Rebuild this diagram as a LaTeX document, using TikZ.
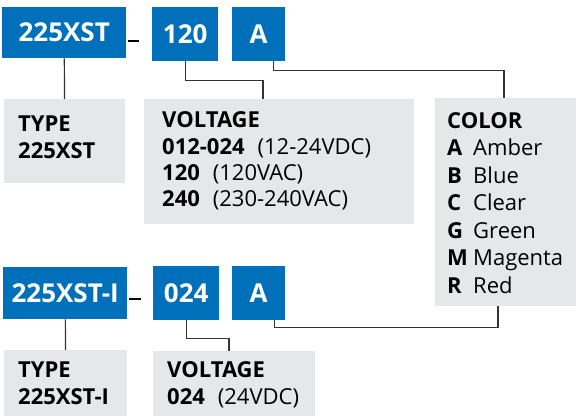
\documentclass[tikz,border=0pt]{standalone}
\usepackage{fontspec}
\setmainfont{Open Sans}
\definecolor{codeblue}{HTML}{0070BA}
\definecolor{infogray}{HTML}{E6E7E8}

\begin{document}
\begin{tikzpicture}[x=1pt, y=-1pt,
    code/.style={fill=codeblue, text=white, anchor=north west, inner sep=0pt, font=\fontsize{26}{26}\selectfont\bfseries},
    info/.style={fill=infogray, anchor=north west, inner sep=0pt},
    lbl/.style={anchor=base west, inner sep=0pt, font=\fontsize{22}{22}\selectfont},
    link/.style={draw=black!80, line width=1.2pt}]
    \useasboundingbox (0,0) rectangle (576,416);

    \node[code, minimum width=124, minimum height=51] (T1) at (2,7) {225XST};
    \node[code, minimum width=66, minimum height=54] (V1) at (152,7) {120};
    \node[code, minimum width=53, minimum height=54] (C1) at (232,7) {A};
    \fill (128,40) rectangle (139,42);

    \node[code, minimum width=124, minimum height=52] (T2) at (3,267) {225XST-I};
    \node[code, minimum width=66, minimum height=54] (V2) at (153,266) {024};
    \node[code, minimum width=53, minimum height=54] (C2) at (232,266) {A};
    \fill (129,298) rectangle (141,300);

    \node[info, minimum width=121, minimum height=84] (TY1) at (4,99) {};
    \node[info, minimum width=270, minimum height=125] (VO1) at (144,99) {};
    \node[info, minimum width=141, minimum height=208] (CO) at (435,98) {};
    \node[info, minimum width=123, minimum height=66] (TY2) at (4,350) {};
    \node[info, minimum width=162, minimum height=65] (VO2) at (153,351) {};

    \draw[link] (T1) -- (TY1);
    \draw[link] (V1.south) -- ++(0,19) -| ([xshift=119pt]VO1.north west);
    \draw[link] ([xshift=15pt]C1.south) -- ++(0,9) -| ([xshift=69pt]CO.north west);
    \draw[link] (T2) -- (TY2);
    \draw[link] (V2.south) -- ++(0,18) -| ([xshift=76pt]VO2.north west);
    \draw[link] ([xshift=16pt]C2.south) -- ++(0,7) -| ([xshift=63pt]CO.south west);

    \node[lbl] (T1a) at (18,131) {\bfseries TYPE};
    \node[lbl] (T1b) at (18,158) {\bfseries 225XST};
    \node[lbl] (V1a) at (162,127) {\bfseries VOLTAGE};
    \node[lbl] (V1b) at (162,154) {\textbf{012-024}\hspace{13pt}(12-24VDC)};
    \node[lbl] (V1c) at (162,180) {\textbf{120}\hspace{13pt}(120VAC)};
    \node[lbl] (V1d) at (162,206) {\textbf{240}\hspace{13pt}(230-240VAC)};
    \node[lbl] (Ca) at (447,128) {\bfseries COLOR};
    \foreach \k/\name [count=\i] in {A/Amber, B/Blue, C/Clear, G/Green, M/Magenta, R/Red} {
        \node[lbl] (K\i) at (447,128+27.5*\i) {\bfseries \k};
        \node[lbl] (N\i) at (473,128+27.5*\i) {\name};
    }

    \node[lbl] (T2a) at (18,377) {\bfseries TYPE};
    \node[lbl] (T2b) at (18,404) {\bfseries 225XST-I};
    \node[lbl] (V2a) at (167,377) {\bfseries VOLTAGE};
    \node[lbl] (V2b) at (167,404) {\textbf{024}\hspace{13pt}(24VDC)};
\end{tikzpicture}
\end{document}
